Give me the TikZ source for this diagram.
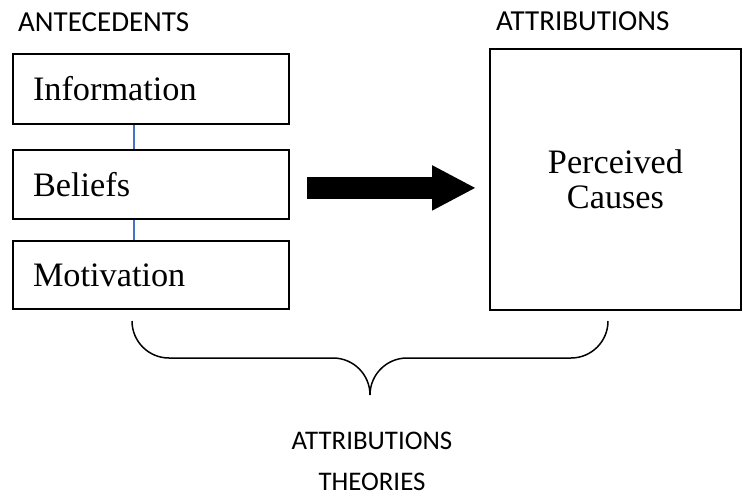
\documentclass[tikz,border=0pt]{standalone}
\usepackage{fontspec}
\setmainfont{Liberation Serif}
\newfontfamily\capfont{Carlito}
\usepackage{tikz}
\definecolor{linkblue}{RGB}{68,114,196}
\usetikzlibrary{positioning,arrows.meta}

\begin{document}
\begin{tikzpicture}[x=0.02cm, y=0.02cm,
  box/.style={draw=black, line width=1.1pt, text width=4.72cm, inner xsep=0.4cm,
    minimum height=1.4cm, align=left, font=\fontsize{19.5}{20}\selectfont},
  heading/.style={font=\capfont\fontsize{16.5}{20}\selectfont, anchor=west},
  link/.style={draw=linkblue, line width=0.6pt},
  bigarrow/.style={line width=0.44cm, -{Triangle[length=0.88cm, width=0.84cm]}}]
\useasboundingbox (0,0) rectangle (743,495);
% Antecedents
\node[heading] (antetitle) at (12,473) {ANTECEDENTS};
\node[box] (info) at (151,406) {Information};
\node[box, minimum height=1.38cm, below=0.48cm of info] (beliefs) {Beliefs};
\node[box, minimum height=1.36cm, below=0.4cm of beliefs] (motiv) {Motivation};
\draw[link] ([xshift=-0.34cm]info.south) -- ([xshift=-0.34cm]beliefs.north);
\draw[link] ([xshift=-0.34cm]beliefs.south) -- ([xshift=-0.34cm]motiv.north);
% Attributions
\node[heading] (attrtitle) at (490,474) {ATTRIBUTIONS};
\node[box, text width=4.22cm, minimum height=5.22cm, align=center] (causes) at (615.5,315.5) {Perceived\\Causes};
% Arrow
\draw[bigarrow, shorten <=0.34cm, shorten >=0.26cm]
  ([yshift=-0.07cm]beliefs.east) -- ([yshift=-0.07cm]beliefs.east -| causes.west);
% Brace
\draw[line width=0.85pt] (132,174) arc[start angle=180, end angle=270, radius=37] -- (333,137)
  arc[start angle=90, end angle=0, radius=37] arc[start angle=180, end angle=90, radius=37]
  -- (571,137) arc[start angle=270, end angle=360, radius=37];
\node[font=\capfont\fontsize{15.3}{23.3}\selectfont, align=center] (theories) at (372,34) {ATTRIBUTIONS\\THEORIES};
\end{tikzpicture}
\end{document}
